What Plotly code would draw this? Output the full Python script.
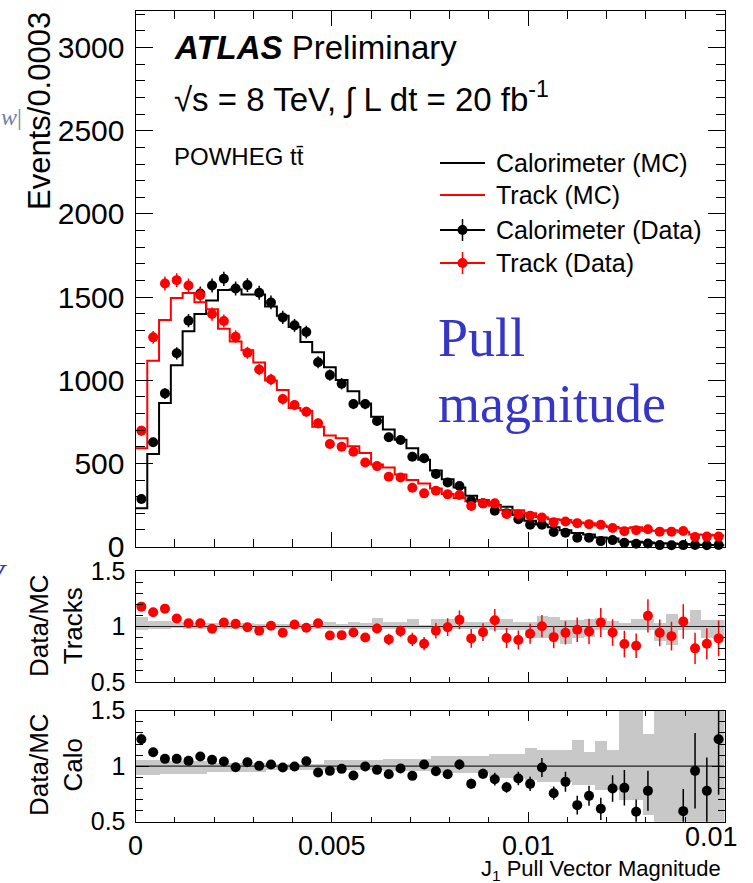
import numpy as np
import plotly.graph_objects as go

W, H = 753, 883
bin_width = 0.0003
n_bins = 50

# ---- main panel data (events / 0.0003) ----
calo_data = [286, 627, 921, 1162, 1358, 1522, 1570, 1610, 1552, 1572, 1526, 1468, 1378, 1330, 1290, 1108,
             1031, 979, 857, 857, 755, 657, 641, 540, 531, 436, 386, 364, 276, 260, 216, 200, 165, 131,
             131, 88, 84, 53, 53, 33, 39, 23, 17, 19, 9, 8, 9, 10, 8, 10]
calo_err = [18, 27, 33, 37, 40, 42, 42, 43, 42, 42, 42, 41, 40, 39, 38, 36, 34, 34, 31, 31, 29, 27, 27, 25,
            24, 22, 21, 20, 18, 17, 16, 15, 14, 12, 12, 10, 10, 8, 8, 6, 7, 5, 5, 5, 3, 3, 3, 3, 3, 3]
calo_mc = [230, 556, 864, 1090, 1294, 1399, 1480, 1543, 1545, 1515, 1516, 1444, 1388, 1320, 1230, 1168,
           1078, 1002, 934, 861, 780, 704, 643, 591, 522, 458, 405, 355, 305, 279, 250, 240, 190, 156,
           133, 116, 98, 82, 72, 54, 49, 29, 29, 24, 20, 18, 15, 11, 10, 8]

track_data = [697, 1258, 1582, 1602, 1570, 1512, 1398, 1356, 1262, 1165, 1065, 1005, 887, 851, 811, 741,
              617, 600, 570, 506, 484, 420, 416, 354, 320, 336, 314, 310, 244, 260, 260, 196, 195, 186,
              175, 147, 151, 141, 135, 131, 112, 93, 98, 104, 90, 90, 94, 58, 60, 60]
track_err = [30, 38, 42, 42, 42, 41, 40, 39, 38, 36, 35, 34, 32, 31, 30, 29, 27, 26, 26, 24, 24, 22, 22,
             20, 19, 20, 19, 19, 17, 17, 17, 15, 15, 15, 14, 13, 13, 13, 12, 12, 11, 10, 10, 11, 10, 10,
             10, 8, 8, 8]
track_mc = [591, 1117, 1363, 1495, 1524, 1469, 1427, 1310, 1233, 1180, 1107, 998, 942, 834, 816, 720, 668,
            651, 603, 562, 493, 475, 434, 400, 379, 350, 316, 292, 273, 274, 246, 220, 218, 200, 176, 164,
            160, 145, 140, 127, 118, 110, 116, 96, 95, 98, 90, 72, 71, 67]

# ---- ratio panels ----
track_ratio = [1.179, 1.128, 1.161, 1.072, 1.030, 1.030, 0.979, 1.036, 1.024, 0.994, 0.961, 1.006, 0.943,
               1.018, 0.988, 1.030, 0.919, 0.922, 0.946, 0.901, 0.982, 0.884, 0.958, 0.884, 0.845, 0.961,
               0.994, 1.060, 0.893, 0.949, 1.057, 0.896, 0.878, 0.934, 1.003, 0.904, 0.943, 0.970, 0.955,
               1.036, 0.946, 0.842, 0.827, 1.096, 0.943, 0.913, 1.045, 0.803, 0.845, 0.893]
track_ratio_err = [0.035, 0.025, 0.02, 0.02, 0.02, 0.02, 0.02, 0.02, 0.025, 0.025, 0.025, 0.025, 0.03, 0.03,
                   0.03, 0.035, 0.035, 0.035, 0.04, 0.04, 0.045, 0.05, 0.05, 0.06, 0.06, 0.07, 0.08, 0.085,
                   0.085, 0.08, 0.1, 0.09, 0.085, 0.09, 0.1, 0.1, 0.105, 0.11, 0.115, 0.13, 0.12, 0.12,
                   0.11, 0.15, 0.12, 0.13, 0.155, 0.14, 0.14, 0.16]
track_band_hi = [1.09, 1.05, 1.05, 1.045, 1.03, 1.03, 1.03, 1.03, 1.03, 1.03, 1.025, 1.025, 1.025, 1.025,
                 1.025, 1.025, 1.04, 1.02, 1.04, 1.03, 1.075, 1.04, 1.04, 1.07, 1.015, 1.065, 1.065, 1.04,
                 1.04, 1.045, 1.07, 1.07, 1.045, 1.04, 1.095, 1.09, 1.06, 1.06, 1.065, 1.075, 1.05, 1.03,
                 1.065, 1.065, 1.03, 1.11, 1.045, 1.145, 1.06, 1.06]
track_band_lo = [0.97, 0.98, 0.98, 0.985, 0.982, 0.982, 0.982, 0.982, 0.982, 0.982, 0.982, 0.982, 0.982,
                 0.982, 0.982, 0.982, 0.976, 0.976, 0.976, 0.976, 0.97, 0.976, 0.976, 0.976, 0.976, 0.976,
                 0.976, 0.976, 0.976, 0.985, 0.97, 0.97, 0.97, 0.895, 0.895, 0.905, 0.845, 0.895, 0.905,
                 0.97, 0.97, 0.97, 0.97, 0.97, 0.865, 0.83, 0.97, 0.97, 0.895, 0.895]

calo_ratio = [1.243, 1.126, 1.066, 1.066, 1.048, 1.087, 1.057, 1.042, 0.991, 1.036, 1.003, 1.015, 0.988,
              0.997, 1.045, 0.943, 0.958, 0.976, 0.916, 0.997, 0.967, 0.928, 0.979, 0.913, 1.015, 0.955,
              0.928, 1.015, 0.841, 0.931, 0.883, 0.811, 0.889, 0.841, 0.988, 0.757, 0.859, 0.649, 0.733,
              0.616, 0.799, 0.805, 0.589, 0.778, None, None, 0.595, 0.958, 0.778, 1.243]
calo_ratio_err = [0.05, 0.025, 0.02, 0.02, 0.02, 0.02, 0.02, 0.02, 0.02, 0.02, 0.02, 0.02, 0.02, 0.025,
                  0.025, 0.025, 0.025, 0.03, 0.03, 0.03, 0.03, 0.035, 0.035, 0.035, 0.04, 0.04, 0.04, 0.045,
                  0.045, 0.045, 0.057, 0.05, 0.06, 0.065, 0.085, 0.06, 0.09, 0.085, 0.09, 0.1, 0.12, 0.16,
                  0.11, 0.18, 0.2, 0.2, 0.2, 0.34, 0.3, 0.5]
calo_band_hi = [1.063, 1.063, 1.05, 1.05, 1.05, 1.05, 1.033, 1.033, 1.033, 1.033, 1.033, 1.027, 1.027,
                1.027, 1.027, 1.027, 1.057, 1.057, 1.057, 1.057, 1.057, 1.072, 1.072, 1.072, 1.072, 1.093,
                1.093, 1.093, 1.093, 1.093, 1.117, 1.117, 1.117, 1.17, 1.147, 1.147, 1.147, 1.237, 1.13,
                1.23, 1.15, 1.5, 1.5, 1.297, 1.5, 1.5, 1.5, 1.5, 1.5, 1.5]
calo_band_lo = [0.922, 0.922, 0.93, 0.93, 0.93, 0.93, 0.952, 0.952, 0.952, 0.952, 0.952, 0.967, 0.967,
                0.967, 0.967, 0.967, 0.967, 0.967, 0.967, 0.967, 0.967, 0.96, 0.96, 0.96, 0.96, 0.937,
                0.937, 0.937, 0.937, 0.937, 0.9, 0.9, 0.9, 0.877, 0.86, 0.86, 0.86, 0.83, 0.83, 0.787,
                0.787, 0.697, 0.697, 0.56, 0.5, 0.5, 0.5, 0.5, 0.5, 0.5]

x_tickvals = [0, 0.005, 0.01]
x_ticktext = ["0", "0.005", "0.01"]
legend_labels = ["Calorimeter (MC)", "Track (MC)", "Calorimeter (Data)", "Track (Data)"]

RED = "#ff0000"
BLACK = "#000000"
FONT = "Liberation Sans, Arial, Helvetica, sans-serif"
SERIF = "Liberation Serif, Times New Roman, serif"

edges = np.arange(n_bins + 1) * bin_width
centers = (np.arange(n_bins) + 0.5) * bin_width
x_max = n_bins * bin_width


def px(xp):
    return xp / W


def py(yp):
    return 1 - yp / H


fig = go.Figure()

# MC histograms (step)
for mc, col in [(calo_mc, BLACK), (track_mc, RED)]:
    fig.add_trace(go.Scatter(x=edges, y=list(mc) + [mc[-1]], mode="lines", line=dict(color=col, width=2, shape="hv"),
                             xaxis="x", yaxis="y", showlegend=False, hoverinfo="skip"))
# data
for d, e, col in [(calo_data, calo_err, BLACK), (track_data, track_err, RED)]:
    fig.add_trace(go.Scatter(x=centers, y=d, mode="markers", marker=dict(color=col, size=10),
                             error_y=dict(type="data", array=e, color=col, thickness=1.5, width=0),
                             xaxis="x", yaxis="y", showlegend=False, cliponaxis=False))

# ratio panels
for (lo, hi, r, re, col, xa, ya) in [
    (track_band_lo, track_band_hi, track_ratio, track_ratio_err, RED, "x2", "y2"),
    (calo_band_lo, calo_band_hi, calo_ratio, calo_ratio_err, BLACK, "x3", "y3"),
]:
    fig.add_trace(go.Bar(x=centers, y=[h - l for h, l in zip(hi, lo)], base=lo, width=bin_width,
                         marker=dict(color="#c8c8c8", line=dict(width=0)), xaxis=xa, yaxis=ya,
                         showlegend=False, hoverinfo="skip"))
    fig.add_trace(go.Scatter(x=[0, x_max], y=[1, 1], mode="lines", line=dict(color="#222222", width=1.2),
                             xaxis=xa, yaxis=ya, showlegend=False, hoverinfo="skip"))
    fig.add_trace(go.Scatter(x=centers, y=r, mode="markers", marker=dict(color=col, size=10),
                             error_y=dict(type="data", array=re, color=col, thickness=1.5, width=0),
                             xaxis=xa, yaxis=ya, showlegend=False))

# legend glyphs on a pixel overlay axis
leg_y = [163, 195, 230, 263]
leg_cols = [BLACK, RED, BLACK, RED]
for i, (yy, col) in enumerate(zip(leg_y, leg_cols)):
    fig.add_trace(go.Scatter(x=[440, 485], y=[yy, yy], mode="lines", line=dict(color=col, width=2),
                             xaxis="x4", yaxis="y4", showlegend=False, hoverinfo="skip"))
    if i >= 2:
        fig.add_trace(go.Scatter(x=[462.5], y=[yy], mode="markers", marker=dict(color=col, size=10),
                                 error_y=dict(type="constant", value=11, color=col, thickness=1.5, width=0),
                                 xaxis="x4", yaxis="y4", showlegend=False, hoverinfo="skip"))

xd = [135.5 / W, 724.5 / W]
dom_main = [py(546.6), py(11)]
dom_trk = [py(682), py(571)]
dom_calo = [py(821.7), py(710.7)]

common_x = dict(range=[0, x_max], showline=True, linecolor="black", linewidth=1, mirror="ticks",
                ticks="inside", tickcolor="black", tickvals=x_tickvals, showgrid=False, zeroline=False,
                domain=xd, automargin=False, tickfont=dict(family=FONT, size=27, color="black"))

yfont_main = dict(family=FONT, size=30, color="black")
yfont_ratio = dict(family=FONT, size=25, color="black")

fig.update_layout(
    width=W, height=H, margin=dict(l=0, r=0, t=0, b=0, pad=0, autoexpand=False),
    paper_bgcolor="white", plot_bgcolor="rgba(0,0,0,0)",
    barmode="overlay", bargap=0, showlegend=False,
    xaxis=dict(common_x, showticklabels=False, ticklen=15,
               minor=dict(dtick=0.001, ticklen=8, ticks="inside", tickcolor="black", showgrid=False)),
    yaxis=dict(domain=dom_main, range=[0, 3220], showline=True, linecolor="black", linewidth=1, mirror="ticks",
               ticks="inside", ticklen=17, tickcolor="black", dtick=500, showgrid=False, zeroline=False,
               tickfont=yfont_main, ticklabelstandoff=4, automargin=False,
               minor=dict(dtick=100, ticklen=9, ticks="inside", tickcolor="black", showgrid=False)),
    xaxis2=dict(common_x, matches="x", showticklabels=False, ticklen=10, anchor="y2",
                minor=dict(dtick=0.001, ticklen=5, ticks="inside", tickcolor="black", showgrid=False)),
    yaxis2=dict(domain=dom_trk, range=[0.5, 1.5], showline=True, linecolor="black", linewidth=1, mirror="ticks",
                ticks="inside", ticklen=13, tickcolor="black", tickvals=[0.5, 1, 1.5], ticktext=["0.5", "1", "1.5"],
                showgrid=False, zeroline=False, anchor="x2", tickfont=yfont_ratio, automargin=False,
                ticklabelstandoff=4,
                minor=dict(dtick=0.1, ticklen=7, ticks="inside", tickcolor="black", showgrid=False)),
    xaxis3=dict(common_x, matches="x", showticklabels=True, ticktext=x_ticktext, ticklen=10, anchor="y3",
                minor=dict(dtick=0.001, ticklen=5, ticks="inside", tickcolor="black", showgrid=False)),
    yaxis3=dict(domain=dom_calo, range=[0.5, 1.5], showline=True, linecolor="black", linewidth=1, mirror="ticks",
                ticks="inside", ticklen=13, tickcolor="black", tickvals=[0.5, 1, 1.5], ticktext=["0.5", "1", "1.5"],
                showgrid=False, zeroline=False, anchor="x3", tickfont=yfont_ratio, automargin=False,
                ticklabelstandoff=4,
                minor=dict(dtick=0.1, ticklen=7, ticks="inside", tickcolor="black", showgrid=False)),
    xaxis4=dict(domain=[0, 1], range=[0, W], visible=False, fixedrange=True, automargin=False),
    yaxis4=dict(domain=[0, 1], range=[H, 0], visible=False, fixedrange=True, anchor="x4", automargin=False),
)

ann = []


def text(t, x, y, size, xanchor="left", yanchor="middle", family=FONT, color="black", angle=0):
    ann.append(dict(text=t, x=px(x), y=py(y), xref="paper", yref="paper", showarrow=False, xanchor=xanchor,
                    yanchor=yanchor, font=dict(family=family, size=size, color=color), textangle=angle))


text("<b><i>ATLAS</i></b> Preliminary", 172, 48, 33)
text("\u221As = 8 TeV, \u222B L dt = 20 fb<sup>-1</sup>", 172, 97, 33)
text("POWHEG t\u0074\u0304", 172, 157, 24)
for lab, yy in zip(legend_labels, leg_y):
    text(lab, 494, yy, 25)
text("Pull", 436, 338, 54, family=SERIF, color="#3535c8")
text("magnitude", 436, 404, 54, family=SERIF, color="#3535c8")
text("Events/0.0003", 40, 10, 31, xanchor="center", yanchor="top", angle=-90)
text("Data/MC<br>Tracks", 56, 626, 26, xanchor="center", angle=-90)
text("Data/MC<br>Calo", 56, 765, 26, xanchor="center", angle=-90)
text("J<sub>1</sub> Pull Vector Magnitude", 723, 870, 22, xanchor="right")
text("0.01", 711, 837, 27, xanchor="center")
# cropped slide fragments at the left edge
text("<i>w</i>|", 24, 117, 24, xanchor="right", family=SERIF, color="#7080a8")
text("<i>V</i>", 10, 575, 34, xanchor="right", family=SERIF, color="#3535c8")

fig.update_layout(annotations=ann)
fig.write_html("out.html")
